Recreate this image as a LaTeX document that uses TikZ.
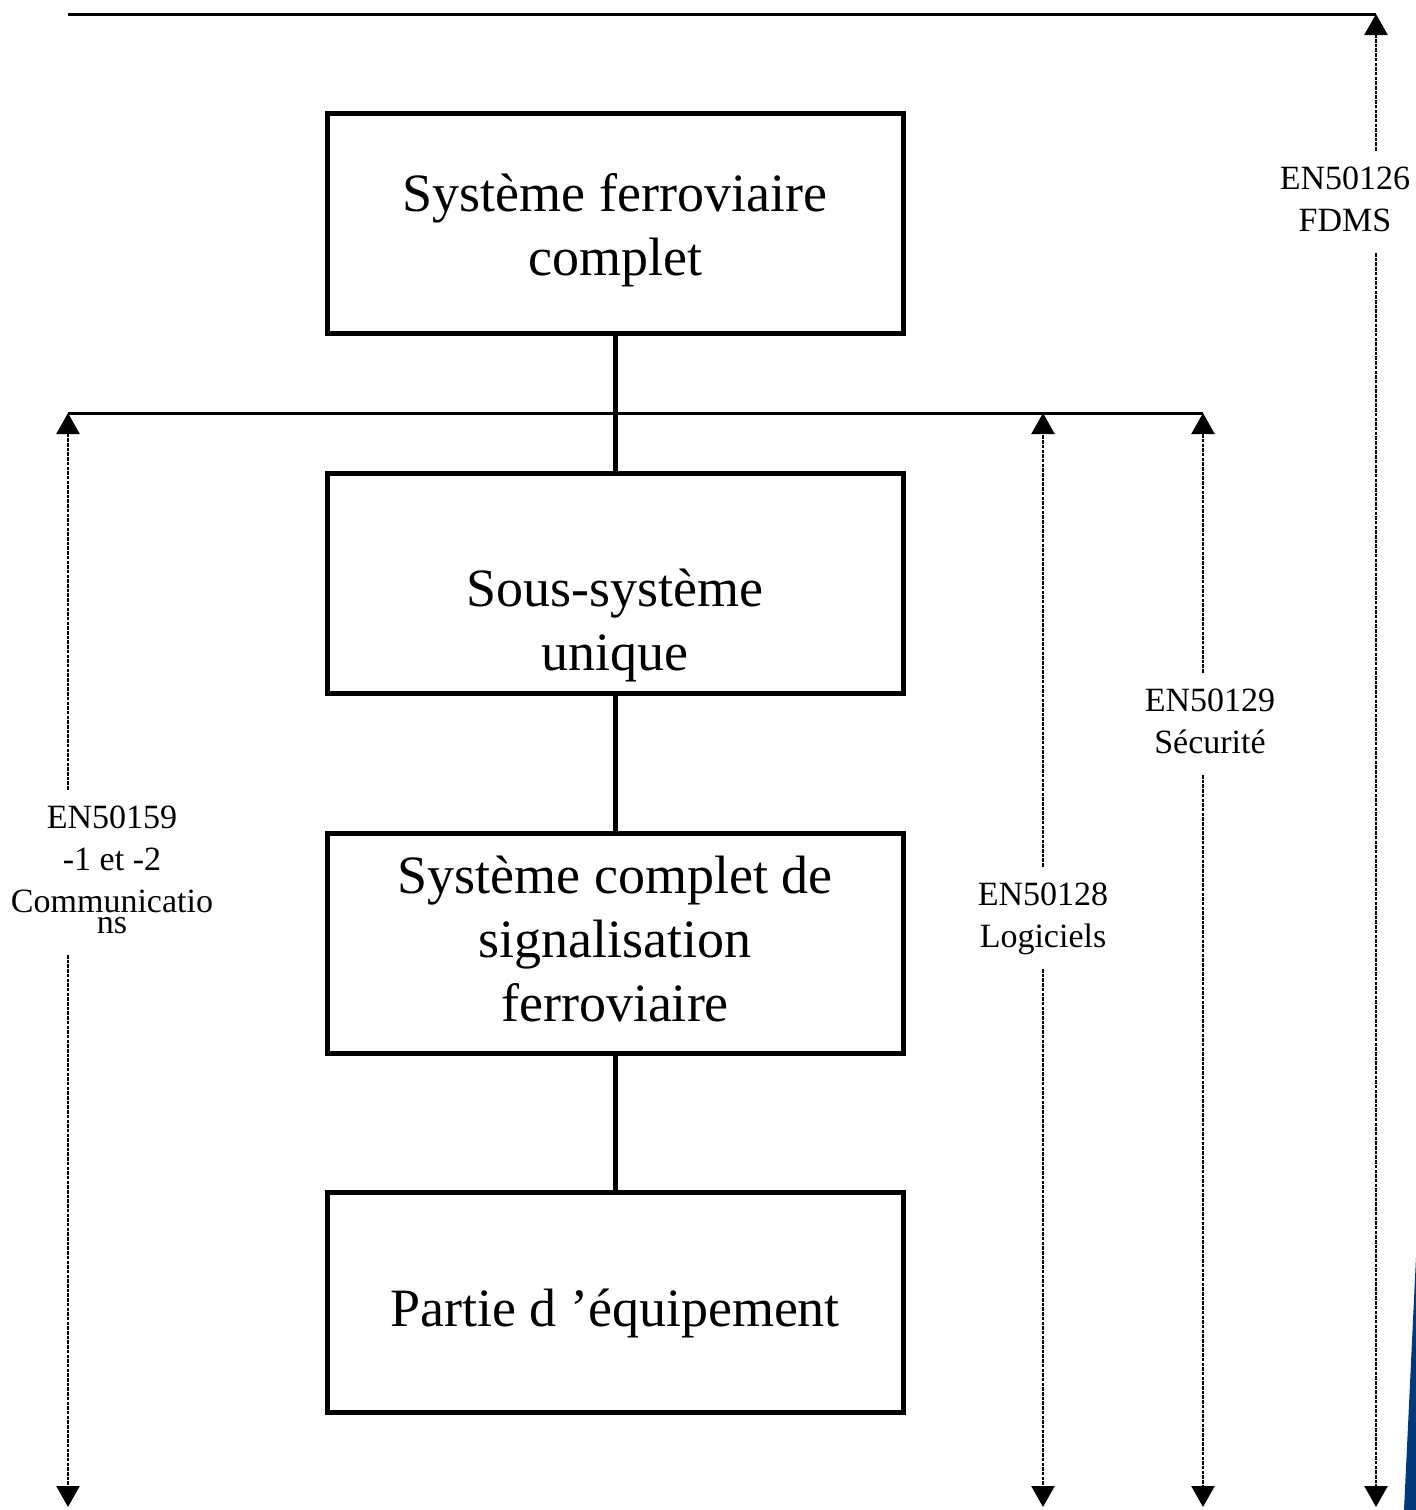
\documentclass[tikz,border=0pt]{standalone}
\usepackage{fontspec}
\setmainfont{Liberation Serif}
\usetikzlibrary{arrows.meta}
\definecolor{wedgeblue}{RGB}{0,56,122}

\begin{document}
\begin{tikzpicture}[x=1pt,y=-1pt,
  levelbox/.style={draw, line width=5pt, minimum width=576pt, minimum height=220pt, inner sep=0pt},
  boxtext/.style={font=\fontsize{54}{64}\selectfont, align=center, inner sep=0pt, anchor=north},
  stdlabel/.style={font=\fontsize{34}{42}\selectfont, align=center, inner xsep=0pt, inner ysep=9pt, anchor=north},
  bar/.style={line width=3pt},
  link/.style={line width=5pt},
  span/.style={line width=2.4pt, dash pattern=on 3.5pt off 1.2pt, -{Triangle[length=21pt,width=23pt]}},
]
\useasboundingbox (0,0) rectangle (1416,1510);

% hierarchy of levels
\node[levelbox] (lvlA) at (615,223) {};
\node[levelbox] (lvlB) at (615,583) {};
\node[levelbox] (lvlC) at (615,943) {};
\node[levelbox] (lvlD) at (615,1302.5) {};

\node[boxtext] (txtA) at (615,166.2) {\strut Système ferroviaire\\\strut complet};
\node[boxtext] (txtB) at (615,561.2) {\strut Sous-système\\\strut unique};
\node[boxtext] (txtC) at (615,848.2) {\strut Système complet de\\\strut signalisation\\\strut ferroviaire};
\node[boxtext] (txtD) at (615,1281.2) {\strut Partie d ’équipement};

\draw[link] (lvlA.south) -- (lvlB.north);
\draw[link] (lvlB.south) -- (lvlC.north);
\draw[link] (lvlC.south) -- (lvlD.north);

% ends of the standard ranges
\coordinate (topL) at (68,14);
\coordinate (fdmsTop) at (1376,14);
\coordinate (fdmsBot) at (1376,1507);
\coordinate (commTop) at (68,413);
\coordinate (commBot) at (68,1507);
\coordinate (logTop) at (1043,413);
\coordinate (logBot) at (1043,1507);
\coordinate (secTop) at (1203,413);
\coordinate (secBot) at (1203,1507);

\draw[bar] (topL) -- (fdmsTop);
\draw[bar] (commTop) -- (secTop);

% standard labels
\node[stdlabel] (fdmsLbl) at (1345,150.6) {\strut EN50126\\\strut FDMS};
\node[stdlabel] (secLbl) at (1210,672.6) {\strut EN50129\\\strut Sécurité};
\node[stdlabel] (logLbl) at (1043,866.6) {\strut EN50128\\\strut Logiciels};
\node[stdlabel] (commLbl) at (112,789.6) {\strut EN50159\\\strut -1 et -2\\\strut Communicatio\\[-21pt]\strut ns};

% range arrows
\draw[span] (fdmsTop |- fdmsLbl.north) -- (fdmsTop);
\draw[span] (fdmsTop |- fdmsLbl.south) -- (fdmsBot);
\draw[span] (secTop |- secLbl.north) -- (secTop);
\draw[span] (secTop |- secLbl.south) -- (secBot);
\draw[span] (logTop |- logLbl.north) -- (logTop);
\draw[span] (logTop |- logLbl.south) -- (logBot);
\draw[span] (commTop |- commLbl.north) -- (commTop);
\draw[span] (commTop |- commLbl.south) -- (commBot);

% blue corner wedge
\fill[wedgeblue] (1416,1257) -- (1404,1510) -- (1416,1510) -- cycle;
\end{tikzpicture}
\end{document}
